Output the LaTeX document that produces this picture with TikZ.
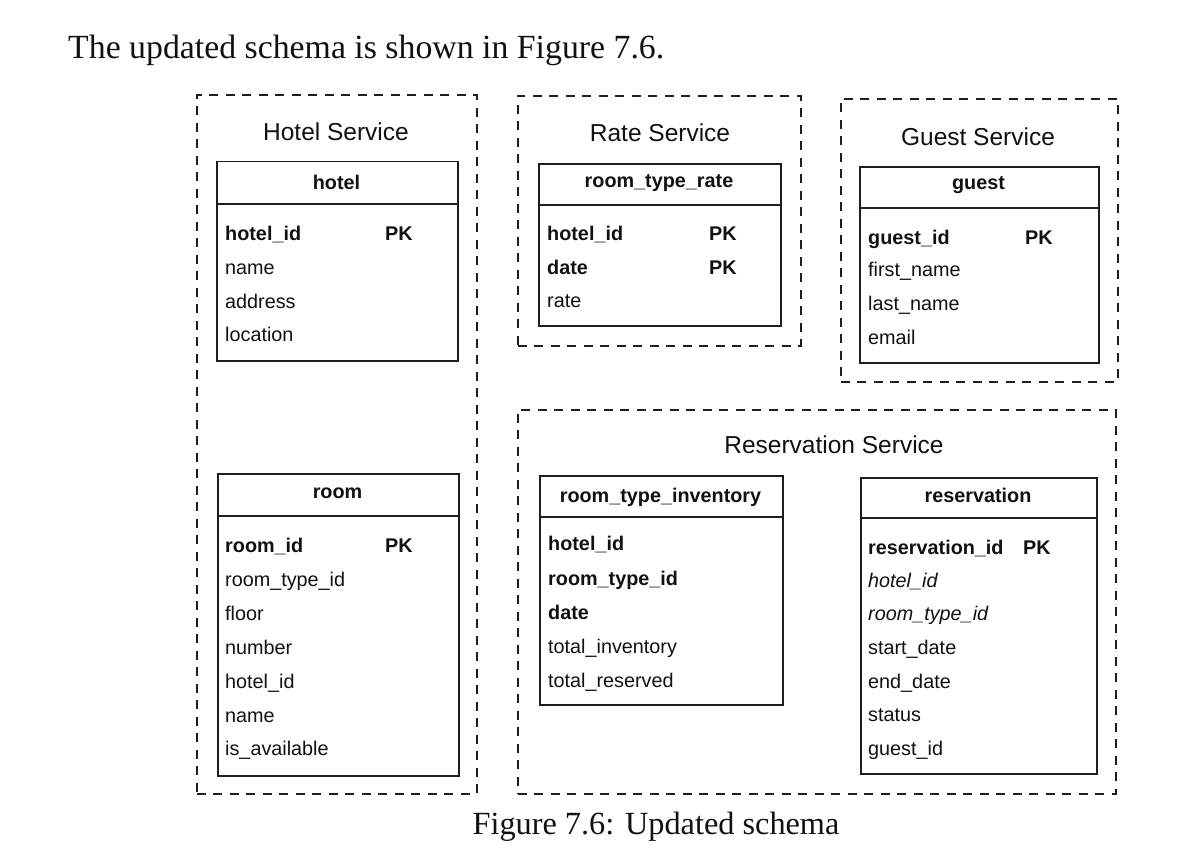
\documentclass[tikz,border=0pt]{standalone}
\usepackage{fontspec}
\newfontfamily\sansf{Liberation Sans}
\newfontfamily\seriff{Liberation Serif}
\definecolor{ink}{HTML}{111111}
\definecolor{lin}{HTML}{1E1E1E}
\tikzset{
  svc/.style={draw=lin, line width=1.8pt, dash pattern=on 9pt off 7.5pt, inner sep=0pt, anchor=north west},
  tbl/.style={draw=lin, line width=1.5pt, inner sep=0pt, anchor=north west},
  sep/.style={draw=lin, line width=1.5pt},
  svctitle/.style={inner sep=0pt, text=ink, font=\sansf\fontsize{24.5}{28}\selectfont},
  hdr/.style={inner sep=0pt, text=ink, font=\sansf\bfseries\fontsize{19.8}{23}\selectfont},
  fld/.style={inner sep=0pt, anchor=base west, text=ink, font=\sansf\fontsize{19.8}{23}\selectfont},
  key/.style={fld, font=\sansf\bfseries\fontsize{19.8}{23}\selectfont},
  fk/.style={fld, font=\sansf\itshape\fontsize{19.8}{23}\selectfont},
  body/.style={inner sep=0pt, text=ink, font=\seriff\fontsize{33.8}{38}\selectfont},
  capt/.style={inner sep=0pt, text=ink, font=\seriff\fontsize{32.3}{36}\selectfont}
}
\begin{document}
\begin{tikzpicture}[x=1pt,y=-1pt]
\useasboundingbox (0,0) rectangle (1202,856);
\fill[white] (0,0) rectangle (1202,856);
\node[body, anchor=base west] (intro) at (68,59) {The updated schema is shown in Figure 7.6.};
\node[capt, anchor=base] (caption) at (656,834) {Figure 7.6: Updated schema};

% Hotel Service
\node[svc, minimum width=280pt, minimum height=699pt] (hotelsvc) at (196,94) {};
\node[svctitle] (hotelsvct) at (336,132) {Hotel Service};
\node[tbl, minimum width=241pt, minimum height=199pt] (hotel) at (216,161) {};
\draw[sep] ([yshift=-43pt]hotel.north west) coordinate (hl1) -- ([yshift=-43pt]hotel.north east) coordinate (hl2);
\node[hdr] (hotelh) at (336.5,182) {hotel};
\node[key] (h1) at (225,240) {hotel\_id};
\node[key] (h1pk) at (385,240) {PK};
\node[fld] (h2) at (225,274) {name};
\node[fld] (h3) at (225,308) {address};
\node[fld] (h4) at (225,341) {location};

\node[tbl, minimum width=241pt, minimum height=302pt] (room) at (217,473) {};
\draw[sep] ([yshift=-43pt]room.north west) coordinate (rl1) -- ([yshift=-43pt]room.north east) coordinate (rl2);
\node[hdr] (roomh) at (337.5,493) {room};
\node[key] (r1) at (225,552) {room\_id};
\node[key] (r1pk) at (385,552) {PK};
\node[fld] (r2) at (225,586) {room\_type\_id};
\node[fld] (r3) at (225,620) {floor};
\node[fld] (r4) at (225,654) {number};
\node[fld] (r5) at (225,688) {hotel\_id};
\node[fld] (r6) at (225,722) {name};
\node[fld] (r7) at (225,755) {is\_available};

% Rate Service
\node[svc, minimum width=283pt, minimum height=250pt] (ratesvc) at (517,95) {};
\node[svctitle] (ratesvct) at (660,133) {Rate Service};
\node[tbl, minimum width=242pt, minimum height=162pt] (rate) at (538,163) {};
\draw[sep] ([yshift=-42pt]rate.north west) coordinate (al1) -- ([yshift=-42pt]rate.north east) coordinate (al2);
\node[hdr] (rateh) at (659,183) {room\_type\_rate};
\node[key] (a1) at (547,240) {hotel\_id};
\node[key] (a1pk) at (709,240) {PK};
\node[key] (a2) at (547,274) {date};
\node[key] (a2pk) at (709,274) {PK};
\node[fld] (a3) at (547,307) {rate};

% Guest Service
\node[svc, minimum width=277pt, minimum height=283pt] (guestsvc) at (840,98) {};
\node[svctitle] (guestsvct) at (978,137) {Guest Service};
\node[tbl, minimum width=239pt, minimum height=196pt] (guest) at (859,166) {};
\draw[sep] ([yshift=-42pt]guest.north west) coordinate (gl1) -- ([yshift=-42pt]guest.north east) coordinate (gl2);
\node[hdr] (guesth) at (978.5,185) {guest};
\node[key] (g1) at (868,244) {guest\_id};
\node[key] (g1pk) at (1025,244) {PK};
\node[fld] (g2) at (868,276) {first\_name};
\node[fld] (g3) at (868,310) {last\_name};
\node[fld] (g4) at (868,344) {email};

% Reservation Service
\node[svc, minimum width=598pt, minimum height=384pt] (ressvc) at (517,409) {};
\node[svctitle] (ressvct) at (834,445) {Reservation Service};
\node[tbl, minimum width=243pt, minimum height=229pt] (inv) at (539,475) {};
\draw[sep] ([yshift=-42pt]inv.north west) coordinate (il1) -- ([yshift=-42pt]inv.north east) coordinate (il2);
\node[hdr] (invh) at (660.5,497) {room\_type\_inventory};
\node[key] (i1) at (548,550) {hotel\_id};
\node[key] (i2) at (548,585) {room\_type\_id};
\node[key] (i3) at (548,619) {date};
\node[fld] (i4) at (548,653) {total\_inventory};
\node[fld] (i5) at (548,687) {total\_reserved};

\node[tbl, minimum width=236pt, minimum height=296pt] (res) at (860,477) {};
\draw[sep] ([yshift=-41pt]res.north west) coordinate (sl1) -- ([yshift=-41pt]res.north east) coordinate (sl2);
\node[hdr] (resh) at (978,495) {reservation};
\node[key] (s1) at (868,554) {reservation\_id};
\node[key] (s1pk) at (1023,554) {PK};
\node[fk] (s2) at (868,587) {hotel\_id};
\node[fk] (s3) at (868,620) {room\_type\_id};
\node[fld] (s4) at (868,654) {start\_date};
\node[fld] (s5) at (868,688) {end\_date};
\node[fld] (s6) at (868,721) {status};
\node[fld] (s7) at (868,755) {guest\_id};
\end{tikzpicture}
\end{document}
